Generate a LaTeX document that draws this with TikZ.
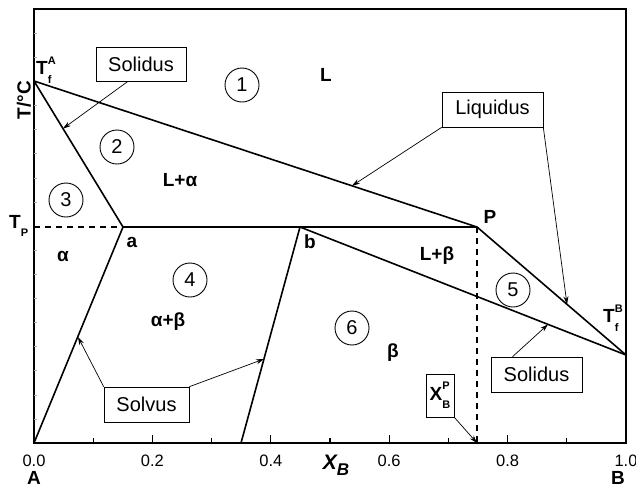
\documentclass[tikz,border=0pt]{standalone}
\usepackage{fontspec}
\setmainfont{Liberation Sans}
\usetikzlibrary{arrows.meta}
\newcommand{\fs}[1]{\fontsize{#1}{#1}\selectfont}
\begin{document}
\begin{tikzpicture}[x=1pt,y=-1pt,
  phase/.style={line width=1.6pt},
  callout/.style={draw, line width=0.6pt, inner sep=0pt, font=\fs{20}},
  ptr/.style={line width=0.7pt,-{Stealth[length=8pt,width=5pt]}},
  num/.style={circle, draw, line width=0.9pt, minimum size=34pt, inner sep=0pt, font=\fs{20}},
  lab/.style={font=\bfseries\fs{19}, inner sep=0pt},
  ticklab/.style={font=\fs{16.5}, inner sep=0pt},
  dashline/.style={dash pattern=on 6pt off 5pt, line width=1.1pt}
]
\useasboundingbox (0,0) rectangle (636,488);
% frame
\draw[line width=2pt] (34,9) rectangle (626,443);
% ticks on x axis
\foreach \i in {0,...,10}{
  \pgfmathsetmacro{\xx}{34+59.2*\i}
  \pgfmathsetmacro{\len}{ifthenelse(mod(\i,2)==0,8,5)}
  \draw[line width=1.2pt] (\xx,443) -- (\xx,443-\len);
}
\foreach \i/\t in {0/0.0,2/0.2,4/0.4,6/0.6,8/0.8,10/1.0}{
  \node[ticklab] (tl\i) at (34+59.2*\i,461) {\t};
}
% faint ticks on y axis
\foreach \k in {1,...,17}{
  \draw[gray!70, line width=0.5pt] (34,9+24.11*\k) -- (37,9+24.11*\k);
}
% key points
\coordinate (TA) at (34,81);
\coordinate (a) at (123,227);
\coordinate (b) at (300,227);
\coordinate (P) at (477,227);
\coordinate (TB) at (626,355);
\coordinate (O) at (34,443);
\coordinate (S2) at (241,443);
\coordinate (XP) at (477,443);
\coordinate (TPL) at (34,227);
% phase lines
\draw[phase] (TA) -- (P) -- (TB);
\draw[phase] (TA) -- (a) -- (P);
\draw[phase] (O) -- (a);
\draw[phase] (S2) -- (b);
\draw[phase] (b) -- (TB);
\draw[dashline] (TPL) -- (a);
\draw[dashline] (P) -- (XP);
% circled numbers
\node[num] (c1) at (242,85) {1};
\node[num] (c2) at (117,147) {2};
\node[num] (c3) at (66,200) {3};
\node[num] (c4) at (190,280) {4};
\node[num] (c5) at (513,290) {5};
\node[num] (c6) at (352,328) {6};
% phase labels
\node[lab] (lL) at (326,75) {L};
\node[lab] (lLa) at (180,180) {L+α};
\node[lab] (lal) at (63,256) {α};
\node[lab] (la) at (132,242) {a};
\node[lab] (lab2) at (168,322) {α+β};
\node[lab] (lb) at (310,242) {b};
\node[lab] (lP) at (490,217) {P};
\node[lab] (lLb) at (437,256) {L+β};
\node[lab] (lbe) at (393,353) {β};
% temperature labels
\node[lab, anchor=west] (lTA) at (36,70) {T\raisebox{0.55em}{\rlap{\fs{11}A}}\raisebox{-0.45em}{\fs{11}f}};
\node[lab, anchor=west] (lTB) at (603,318) {T\raisebox{0.55em}{\rlap{\fs{11}B}}\raisebox{-0.45em}{\fs{11}f}};
\node[lab, anchor=west] (lTP) at (9,226) {T\raisebox{-0.4em}{\fs{11}P}};
% axis labels
\node[lab, rotate=90] (ylab) at (24,100) {T/°C};
\node[font=\bfseries\itshape\fs{21}, inner sep=0pt] (xlab) at (336,465) {X\raisebox{-0.3em}{\fs{17}B}};
\node[lab] (lA) at (34,478) {A};
\node[lab] (lB) at (618,478) {B};
% callouts
\node[callout, minimum width=90pt, minimum height=34pt] (sol1) at (141,64) {Solidus};
\node[callout, minimum width=101pt, minimum height=35pt] (liq) at (492.5,109.5) {Liquidus};
\node[callout, minimum width=91pt, minimum height=35pt] (sol2) at (536.5,374.5) {Solidus};
\node[callout, minimum width=85pt, minimum height=35pt] (solv) at (146.5,404.5) {Solvus};
\node[callout, minimum width=28pt, minimum height=43pt, font=\bfseries\fs{19}] (xbp) at (440,395.5) {X\raisebox{0.55em}{\rlap{\fs{11}P}}\raisebox{-0.45em}{\fs{11}B}};
% pointer tips
\coordinate (t1) at (63,128.6);
\coordinate (t2) at (352,185.8);
\coordinate (t3) at (567,304.3);
\coordinate (t4) at (548,324.4);
\coordinate (t5) at (78,337);
\coordinate (t6) at (264,359);
\draw[ptr] ([xshift=-13pt]sol1.south) -- (t1);
\draw[ptr] (liq.south west) -- (t2);
\draw[ptr] (liq.south east) -- (t3);
\draw[ptr] ([xshift=-24pt]sol2.north) -- (t4);
\draw[ptr] (solv.north west) -- (t5);
\draw[ptr] (solv.north east) -- (t6);
\draw[ptr] (xbp.south east) -- (XP);
\end{tikzpicture}
\end{document}
